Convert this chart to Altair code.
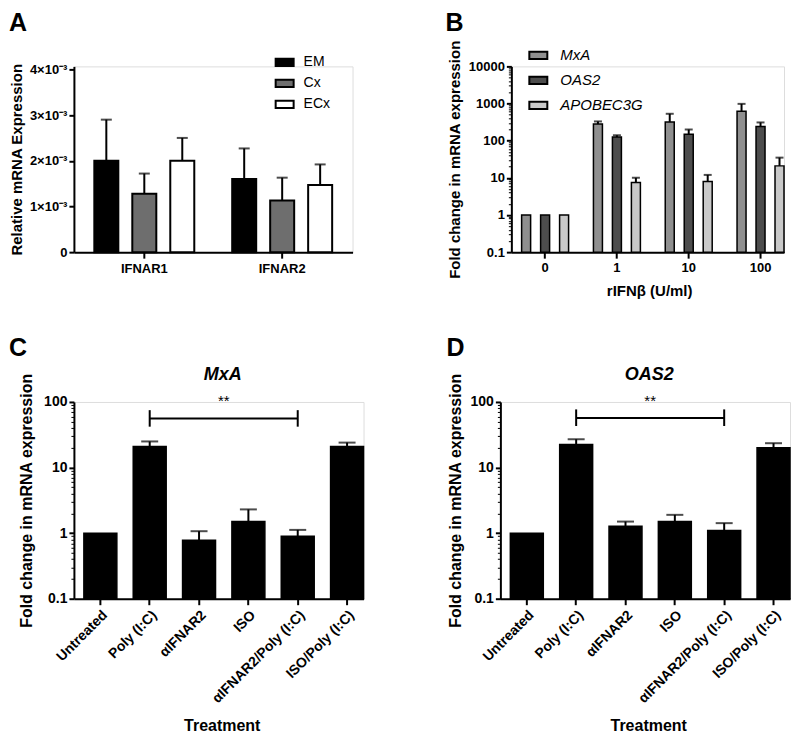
import json
import altair as alt
import pandas as pd

FONT = "Liberation Sans"

# ---------------- Panel A data ----------------
A_GENES = ["IFNAR1", "IFNAR2"]
A_GROUPS = ["EM", "Cx", "ECx"]
A_EM = [2.0e-3, 1.6e-3]
A_CX = [1.28e-3, 1.13e-3]
A_ECX = [2.0e-3, 1.47e-3]
A_EM_UP = [2.9e-3, 2.27e-3]
A_CX_UP = [1.72e-3, 1.63e-3]
A_ECX_UP = [2.5e-3, 1.92e-3]
A_FILLS = ["#000000", "#6e6e6e", "#ffffff"]
A_TICKS = [0, 0.001, 0.002, 0.003, 0.004]
A_TICK_LABELS = ["0", "1×10⁻³", "2×10⁻³", "3×10⁻³", "4×10⁻³"]

# ---------------- Panel B data ----------------
B_DOSES = ["0", "1", "10", "100"]
B_GENES = ["MxA", "OAS2", "APOBEC3G"]
B_MXA = [1, 280, 320, 620]
B_OAS2 = [1, 125, 150, 240]
B_APOBEC = [1, 7.5, 8, 21]
B_MXA_UP = [1, 330, 530, 980]
B_OAS2_UP = [1, 140, 200, 310]
B_APOBEC_UP = [1, 10, 12, 35]
B_FILLS = ["#8f8f8f", "#4d4d4d", "#c9c9c9"]
B_TICKS = [0.1, 1, 10, 100, 1000, 10000]
B_TICK_LABELS = ["0.1", "1", "10", "100", "1000", "10000"]

# ---------------- Panels C / D data ----------------
TREATMENTS = ["Untreated", "Poly (I:C)", "αIFNAR2", "ISO",
              "αIFNAR2/Poly (I:C)", "ISO/Poly (I:C)"]
C_MEAN = [1.0, 21, 0.78, 1.5, 0.9, 21]
C_UP = [1.0, 25, 1.07, 2.3, 1.12, 24]
D_MEAN = [1.0, 22.5, 1.27, 1.5, 1.1, 20]
D_UP = [1.0, 27, 1.5, 1.9, 1.42, 23.5]
CD_TICKS = [0.1, 1, 10, 100]
CD_TICK_LABELS = ["0.1", "1", "10", "100"]
SIG_PAIR = ["Poly (I:C)", "αIFNAR2/Poly (I:C)"]
C_SIG = {"y": 56, "lo": 42, "hi": 75}
D_SIG = {"y": 57, "lo": 43, "hi": 77}


def minor_ticks(lo_exp, hi_exp):
    return [m * 10.0 ** e for e in range(lo_exp, hi_exp) for m in range(2, 10)]


def label_expr(values, labels):
    return "%s[indexof(%s, datum.value)]" % (
        json.dumps(labels, ensure_ascii=False), json.dumps(values))


AX = dict(domainColor="black", domainWidth=2, tickColor="black", tickWidth=2,
          labelColor="black", labelFont=FONT, labelFontWeight="bold",
          titleColor="black", titleFont=FONT, titleFontWeight="bold", grid=False)


def text_layer(text, x, y, size, weight="bold", style="normal", align="left",
               baseline="alphabetic"):
    return alt.Chart(pd.DataFrame({"t": [text]})).mark_text(
        font=FONT, fontSize=size, fontWeight=weight, fontStyle=style,
        align=align, baseline=baseline, color="black").encode(
        x=alt.value(x), y=alt.value(y), text="t:N")


# ================= Panel A =================
WA, HA = 279, 186
A_TOP = 0.004 * HA / 183
rowsA = []
for i, g in enumerate(A_GENES):
    for grp, means, ups in zip(A_GROUPS, [A_EM, A_CX, A_ECX], [A_EM_UP, A_CX_UP, A_ECX_UP]):
        rowsA.append({"geneA": g, "groupA": grp, "meanA": means[i], "upperA": ups[i]})
dfA = pd.DataFrame(rowsA)

xA = alt.X("geneA:N", scale=alt.Scale(domain=A_GENES, paddingInner=0.275, paddingOuter=0.148),
           axis=alt.Axis(title=None, labelAngle=0, labelPadding=4, tickSize=6,
                         labelFontSize=13, **AX))
xoA = alt.XOffset("groupA:N", scale=alt.Scale(domain=A_GROUPS, paddingInner=0.368, paddingOuter=0))
yA_scale = alt.Scale(domain=[0, A_TOP], nice=False, zero=True)
yA_axis = alt.Axis(values=A_TICKS, labelExpr=label_expr(A_TICKS, A_TICK_LABELS),
                   title="Relative mRNA Expression", titleX=-57, titleY=HA / 2,
                   titleAngle=270, titleAlign="center", titleBaseline="middle",
                   titleFontSize=15, labelFontSize=13, labelPadding=2, tickSize=5, **AX)

barsA = alt.Chart(dfA).mark_bar(stroke="black", strokeWidth=2).encode(
    x=xA, xOffset=xoA,
    y=alt.Y("meanA:Q", scale=yA_scale, axis=yA_axis),
    fill=alt.Fill("groupA:N", scale=alt.Scale(domain=A_GROUPS, range=A_FILLS),
                  legend=alt.Legend(title=None, orient="none", legendX=201, legendY=-14,
                                    direction="vertical", padding=0,
                                    symbolType="M-1,-0.4H1V0.4H-1Z", symbolSize=324,
                                    symbolStrokeColor="black", symbolStrokeWidth=2,
                                    labelFont=FONT, labelFontSize=14, labelColor="black",
                                    labelOffset=9, rowPadding=3)),
)
stemA = alt.Chart(dfA).mark_rule(color="black", strokeWidth=2).encode(
    x=xA, xOffset=xoA,
    y=alt.Y("meanA:Q", scale=yA_scale, axis=yA_axis), y2="upperA:Q")
capA = alt.Chart(dfA).mark_tick(color="black", thickness=2, size=11).encode(
    x=xA, xOffset=xoA,
    y=alt.Y("upperA:Q", scale=yA_scale, axis=yA_axis))
panelA = alt.layer(
    stemA, capA, barsA,
    text_layer("A", -65, -55, 25, baseline="top"),
).properties(width=WA, height=HA)

# ================= Panel B =================
WB, HB = 273, 186
rowsB = []
for gene, means, ups in zip(B_GENES, [B_MXA, B_OAS2, B_APOBEC], [B_MXA_UP, B_OAS2_UP, B_APOBEC_UP]):
    for d, m, u in zip(B_DOSES, means, ups):
        rowsB.append({"dose": d, "geneB": gene, "meanB": m, "upperB": u})
dfB = pd.DataFrame(rowsB)
dfB_err = dfB[dfB["upperB"] > dfB["meanB"]]

xB = alt.X("dose:N", scale=alt.Scale(domain=B_DOSES, paddingInner=0.346, paddingOuter=0.0715, align=1),
           axis=alt.Axis(title="rIFNβ (U/ml)", titleX=138, titleY=38, titleAlign="center",
                         titleBaseline="middle", titleFontSize=15, labelAngle=0,
                         labelPadding=3, tickSize=6, labelFontSize=13, **AX))
xoB = alt.XOffset("geneB:N", scale=alt.Scale(domain=B_GENES, paddingInner=0.526, paddingOuter=0))
yB_scale = alt.Scale(type="log", domain=[0.1, 10000], nice=False)

barsB = alt.Chart(dfB).mark_bar(stroke="black", strokeWidth=1.5).encode(
    x=xB, xOffset=xoB,
    y=alt.Y("meanB:Q", scale=yB_scale,
            axis=alt.Axis(values=B_TICKS, labelExpr=label_expr(B_TICKS, B_TICK_LABELS),
                          title="Fold change in mRNA expression", titleX=-57, titleY=HB / 2,
                          titleAngle=270, titleAlign="center", titleBaseline="middle",
                          titleFontSize=15, labelFontSize=13, labelPadding=2, tickSize=5,
                          orient="left", **AX)),
    y2=alt.datum(0.1),
    fill=alt.Fill("geneB:N", scale=alt.Scale(domain=B_GENES, range=B_FILLS),
                  legend=alt.Legend(title=None, orient="none", legendX=17, legendY=-21,
                                    direction="vertical", padding=0,
                                    symbolType="M-1,-0.4H1V0.4H-1Z", symbolSize=324,
                                    symbolStrokeColor="black", symbolStrokeWidth=2,
                                    labelFont=FONT, labelFontSize=15, labelFontStyle="italic",
                                    labelColor="black", labelOffset=12, rowPadding=7)),
)
stemB = alt.Chart(dfB_err).mark_rule(color="black", strokeWidth=2).encode(
    x=xB, xOffset=xoB,
    y=alt.Y("meanB:Q", scale=yB_scale, axis=None), y2="upperB:Q")
capB = alt.Chart(dfB_err).mark_tick(color="black", thickness=2, size=8).encode(
    x=xB, xOffset=xoB,
    y=alt.Y("upperB:Q", scale=yB_scale, axis=None))
minorB = alt.Chart(dfB).mark_point(opacity=0).encode(
    y=alt.Y("meanB:Q", scale=yB_scale,
            axis=alt.Axis(values=minor_ticks(-1, 4), labels=False, domain=False, title=None,
                          tickSize=3, tickWidth=1, tickColor="black", grid=False, orient="left")))
panelB = alt.layer(
    stemB, capB, barsB, minorB,
    text_layer("B", -66, -55, 25, baseline="top"),
).resolve_axis(y="independent").properties(width=WB, height=HB)


# ================= Panels C / D =================
def panel_cd(means, ups, sig, gene, letter, letter_x, ytitle_x, key):
    W, H = 290, 197
    tr, mn, up = "tr" + key, "mean" + key, "upper" + key
    df = pd.DataFrame({tr: TREATMENTS, mn: means, up: ups})
    df_err = df[df[up] > df[mn]]
    xs = alt.Scale(domain=TREATMENTS, paddingInner=0.332, paddingOuter=0.101, align=1)
    ys = alt.Scale(type="log", domain=[0.1, 100], nice=False)
    x_axis = alt.Axis(title="Treatment", titleX=148, titleY=127, titleAlign="center",
                      titleBaseline="middle", titleFontSize=16, labelAngle=315,
                      labelPadding=3, tickSize=6, labelFontSize=14, **AX)
    xenc = alt.X(tr + ":N", scale=xs, axis=x_axis)
    bars = alt.Chart(df).mark_bar(color="black", stroke="black", strokeWidth=1.5).encode(
        x=xenc,
        y=alt.Y(mn + ":Q", scale=ys,
                axis=alt.Axis(values=CD_TICKS, labelExpr=label_expr(CD_TICKS, CD_TICK_LABELS),
                              title="Fold change in mRNA expression", titleX=ytitle_x,
                              titleY=H / 2, titleAngle=270, titleAlign="center",
                              titleBaseline="middle", titleFontSize=16, labelFontSize=14,
                              labelPadding=2, tickSize=5, orient="left", **AX)),
        y2=alt.datum(0.1),
    )
    stem = alt.Chart(df_err).mark_rule(color="black", strokeWidth=2).encode(
        x=xenc, y=alt.Y(mn + ":Q", scale=ys, axis=None), y2=up + ":Q")
    cap = alt.Chart(df_err).mark_tick(color="black", thickness=2, size=17).encode(
        x=xenc, y=alt.Y(up + ":Q", scale=ys, axis=None))
    minor = alt.Chart(df).mark_point(opacity=0).encode(
        y=alt.Y(mn + ":Q", scale=ys,
                axis=alt.Axis(values=minor_ticks(-1, 2), labels=False, domain=False, title=None,
                              tickSize=3, tickWidth=1, tickColor="black", grid=False,
                              orient="left")))
    bdf = pd.DataFrame({tr: [SIG_PAIR[0]], "b": [SIG_PAIR[1]], "y": [sig["y"]]})
    bracket = alt.Chart(bdf).mark_rule(color="black", strokeWidth=2).encode(
        x=xenc, x2="b:N", y=alt.Y("y:Q", scale=ys, axis=None))
    edf = pd.DataFrame({tr: SIG_PAIR, "lo": [sig["lo"]] * 2, "hi": [sig["hi"]] * 2})
    ends = alt.Chart(edf).mark_rule(color="black", strokeWidth=2).encode(
        x=xenc, y=alt.Y("lo:Q", scale=ys, axis=None), y2="hi:Q")
    return alt.layer(
        stem, cap, bars, minor, bracket, ends,
        text_layer("**", 150, 4, 15, weight="normal", align="center"),
        text_layer(gene, 149, -22, 18, style="italic", align="center"),
        text_layer(letter, letter_x, -66, 25, baseline="top"),
    ).resolve_axis(y="independent").properties(width=W, height=H)


panelC = panel_cd(C_MEAN, C_UP, C_SIG, "MxA", "C", -65, -47, "C")
panelD = panel_cd(D_MEAN, D_UP, D_SIG, "OAS2", "D", -54, -45, "D")

top_row = alt.hconcat(panelA, panelB, spacing=91).resolve_scale(
    x="independent", y="independent", xOffset="independent", fill="independent"
).resolve_legend(fill="independent")
bottom_row = alt.hconcat(panelC, panelD, spacing=80).resolve_scale(
    x="independent", y="independent")

chart = alt.vconcat(top_row, bottom_row, spacing=36).resolve_scale(
    x="independent", y="independent", xOffset="independent", fill="independent"
).resolve_legend(fill="independent").properties(
    padding={"left": 0, "top": 2, "right": 0, "bottom": 0}
).configure_view(stroke=None).configure(font=FONT)

chart.save("out.html", embed_options={"renderer": "svg", "actions": False})
